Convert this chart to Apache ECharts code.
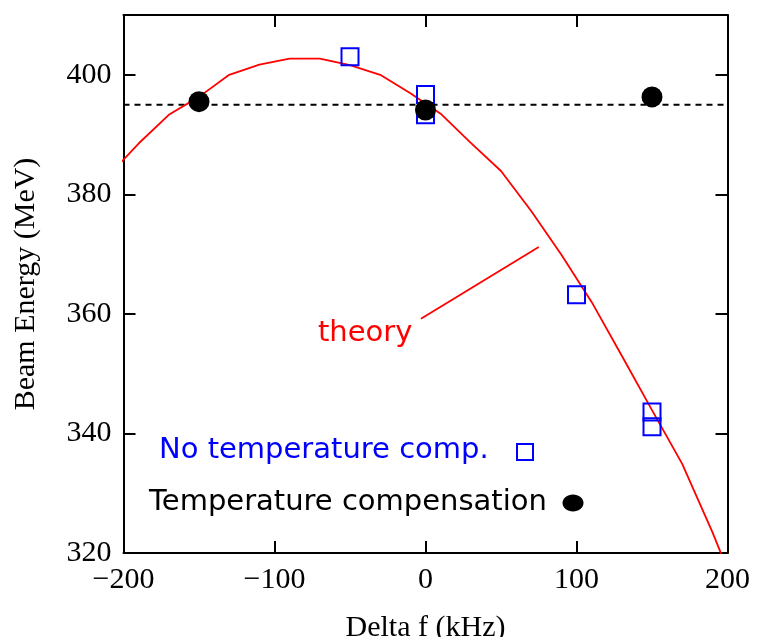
<!DOCTYPE html>
<html>
<head>
<meta charset="utf-8">
<script src="https://cdn.jsdelivr.net/npm/echarts@6/dist/echarts.min.js"></script>
<style>
  html, body { margin: 0; padding: 0; background: #fff; }
  #chart { width: 758px; height: 637px; }
</style>
</head>
<body>
<div id="chart"></div>
<script>
// Calculated beam energy vs. RF frequency offset (kHz, MeV)
const theoryX = [-210, -190, -170, -150, -130, -110, -90, -70, -50, -30, -10, 10, 30, 50, 70, 90, 110, 130, 150, 170, 190, 210];
const theoryY = [383.1, 388.5, 393.3, 396.3, 400.0, 401.7, 402.7, 402.7, 401.6, 400.0, 396.9, 393.5, 388.6, 383.9, 377.2, 369.9, 362.0, 353.0, 343.9, 334.9, 323.5, 311.0];

// Measurements without temperature compensation
const noCompX = [-50, 0, 0, 100, 150, 150];
const noCompY = [403.0, 396.7, 393.3, 363.2, 343.6, 341.1];

// Measurements with temperature compensation
const compX = [-150, 0, 150];
const compY = [395.5, 394.1, 396.3];

// Nominal energy reference level
const nominalEnergy = 395;
const xRange = [-200, 200];

// Leader line from the "theory" label to the curve
const leaderX = [-3, 75];
const leaderY = [359.2, 371.2];

const serif = '"Liberation Serif", "Times New Roman", serif';
const sans = '"DejaVu Sans", "Noto Sans", sans-serif';

const zip = (xs, ys) => xs.map((x, i) => [x, ys[i]]);

const chart = echarts.init(document.getElementById('chart'));

const axisLine = { show: true, onZero: false, lineStyle: { color: '#000', width: 2 } };
const tickStyle = { show: true, inside: true, length: 12, lineStyle: { color: '#000', width: 2 } };

chart.setOption({
  animation: false,
  backgroundColor: '#fff',
  grid: { left: 123.5, right: 30.5, top: 15, bottom: 84, containLabel: false, outerBoundsMode: 'none' },
  xAxis: [
    {
      type: 'value', min: -200, max: 200, interval: 100,
      name: 'Delta f (kHz)', nameLocation: 'middle', nameGap: 60,
      nameTextStyle: { fontFamily: serif, fontSize: 30, color: '#000' },
      axisLine, axisTick: tickStyle, splitLine: { show: false },
      axisLabel: {
        fontFamily: serif, fontSize: 30, color: '#000', margin: 12,
        formatter: v => (v < 0 ? '\u2212' + Math.abs(v) : String(v))
      }
    },
    {
      type: 'value', min: -200, max: 200, interval: 100, position: 'top',
      axisLine, axisTick: tickStyle, axisLabel: { show: false }, splitLine: { show: false }
    }
  ],
  yAxis: [
    {
      type: 'value', min: 320, max: 410, interval: 20,
      name: 'Beam Energy (MeV)', nameLocation: 'middle', nameGap: 82,
      nameTextStyle: { fontFamily: serif, fontSize: 30, color: '#000' },
      axisLine, axisTick: tickStyle, splitLine: { show: false },
      axisLabel: {
        fontFamily: serif, fontSize: 30, color: '#000', margin: 12,
        formatter: v => (v > 400 ? '' : String(v))
      }
    },
    {
      type: 'value', min: 320, max: 410, interval: 20, position: 'right',
      axisLine, axisTick: tickStyle, axisLabel: { show: false }, splitLine: { show: false }
    }
  ],
  series: [
    {
      name: 'nominal', type: 'line', data: zip(xRange, [nominalEnergy, nominalEnergy]),
      symbol: 'none', silent: true,
      lineStyle: { color: '#000', width: 2, type: [6, 5] }, z: 1
    },
    {
      name: 'theory', type: 'line', data: zip(theoryX, theoryY),
      symbol: 'none', clip: true,
      lineStyle: { color: '#ff0000', width: 1.8 }, z: 2
    },
    {
      name: 'theory label', type: 'line', data: zip(leaderX, leaderY),
      symbol: 'none', lineStyle: { color: '#ff0000', width: 1.8 }, z: 2
    },
    {
      name: 'No temperature comp.', type: 'scatter', data: zip(noCompX, noCompY),
      symbol: 'rect', symbolSize: 17,
      itemStyle: { color: 'rgba(0,0,0,0)', borderColor: '#0000ff', borderWidth: 2, opacity: 1 }, z: 3
    },
    {
      name: 'Temperature compensation', type: 'scatter', data: zip(compX, compY),
      symbol: 'circle', symbolSize: 21,
      itemStyle: { color: '#000', opacity: 1 }, z: 4
    }
  ],
  graphic: [
    { type: 'text', x: 318, y: 333,
      style: { text: 'theory', fill: '#ff0000', font: '29px ' + sans, verticalAlign: 'middle' } },
    { type: 'text', x: 159, y: 450,
      style: { text: 'No temperature comp.', fill: '#0000ff', font: '29px ' + sans, verticalAlign: 'middle' } },
    { type: 'rect', shape: { x: 517, y: 444, width: 16, height: 16 },
      style: { fill: 'none', stroke: '#0000ff', lineWidth: 2 } },
    { type: 'text', x: 149, y: 502,
      style: { text: 'Temperature compensation', fill: '#000', font: '29px ' + sans, verticalAlign: 'middle' } },
    { type: 'ellipse', shape: { cx: 573, cy: 503, rx: 10.5, ry: 8.5 },
      style: { fill: '#000' } }
  ]
});
</script>
</body>
</html>
